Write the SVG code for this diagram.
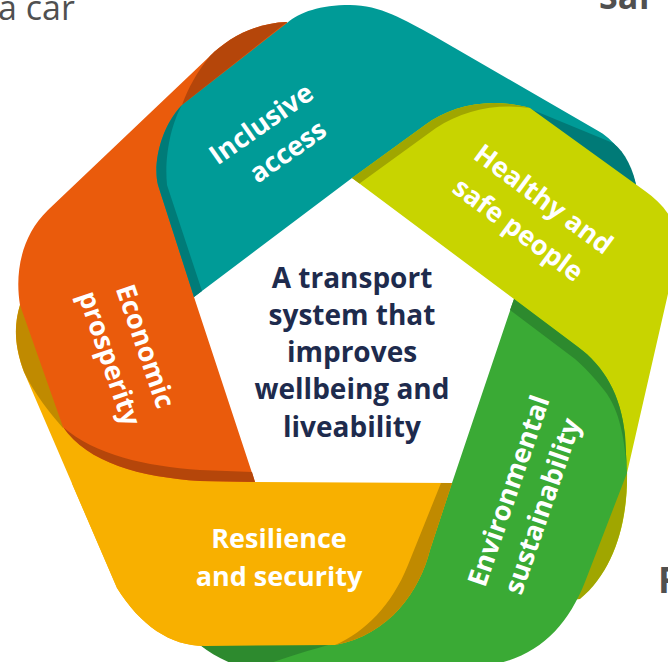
<svg xmlns="http://www.w3.org/2000/svg" width="668" height="662" viewBox="0 0 668 662">
<style>
.lbl{font-family:"Open Sans","Noto Sans","Liberation Sans",sans-serif;font-weight:700;font-size:27px;fill:#ffffff;text-anchor:middle}
.ctr{font-family:"Open Sans","Noto Sans","Liberation Sans",sans-serif;font-weight:700;font-size:28px;fill:#1e2b4d;text-anchor:middle}
.bgt{font-family:"Open Sans","Liberation Sans",sans-serif;fill:#505050}
</style>
<defs>
<path id="yShape" d="M452,483 L430,550 C420,590 390,635 335,645 L205,646 C170,646 140,625 117,588 L24,372 C14,345 14,325 20,305 L40,290 L100,300 L255,482 Z"/>
<clipPath id="clipLow"><rect x="0" y="483" width="668" height="200"/></clipPath>
</defs>
<rect width="668" height="662" fill="#ffffff"/>
<g id="background-text">
<text class="bgt" x="-2" y="20" font-size="34">a car</text>
<text class="bgt" x="599" y="8.5" font-size="34" font-weight="700">Saf</text>
<text class="bgt" x="658" y="593" font-size="36" font-weight="700">F</text>
</g>
<g id="node-resilience-fold">
<use href="#yShape" fill="#f8b000"/>
<path d="M20,305 C14,325 14,345 24,372 C35,395 50,413 63,428 L80,300 Z" fill="#c08a00"/>
</g>
<g id="node-economic">
<path d="M255,482 L200,481 C140,477 88,463 63,427 L20,305 C15,275 20,237 48,210 L210,56 C228,38 255,23 287,22 L300,60 L250,160 L194,297 Z" fill="#ea5b0c"/>
<path d="M210,56 C228,38 255,23 287,22 L182,105 C188,88 197,72 210,56 Z" fill="#b5460a"/>
<path d="M63,427 C88,463 140,477 200,481 L255,482 L252,472 L200,470 C145,466 95,455 63,427 Z" fill="#b5460a"/>
<text class="lbl" transform="translate(136.5,349.3) rotate(71)">Economic</text>
<text class="lbl" transform="translate(100.7,361.3) rotate(71)">prosperity</text>
</g>
<g id="node-inclusive">
<path d="M194,297 L158,185 C153,165 160,128 182,105 L287,23 C300,12 320,5 350,5 C380,5 405,20 434,36 L600,132 C615,141 632,162 637,190 L600,240 L352,178 Z" fill="#009b97"/>
<path d="M194,297 L158,185 C153,165 160,128 182,105 C172,122 164,155 167,185 L202,291 Z" fill="#007b78"/>
<path d="M528,108 L613,143 C625,152 634,170 637,190 L640,215 L560,150 Z" fill="#007a77"/>
<text class="lbl" transform="translate(266.5,131.5) rotate(-35)">Inclusive</text>
<text class="lbl" transform="translate(293,159) rotate(-35)">access</text>
</g>
<g id="node-healthy">
<path d="M352,178 L425,125 C452,105 490,97 530,108 L645,191 C665,205 680,225 678,250 L627,473 C628,520 615,570 580,598 L545,565 L514,299 Z" fill="#c8d400"/>
<path d="M352,178 L425,125 C452,105 490,97 530,108 C497,103 463,110 436,128 L359.5,183.6 Z" fill="#a0a600"/>
<path d="M627,470 C628,520 615,570 580,599 L572,600 L600,470 Z" fill="#a0a600"/>
<text class="lbl" transform="translate(538,206.6) rotate(36.5)">Healthy and</text>
<text class="lbl" transform="translate(512.6,237) rotate(36.5)">safe people</text>
</g>
<g id="node-environmental">
<path d="M514,299 L578,347 C604,366 621,395 625,435 L627,473 L585,582 C568,625 540,655 495,664 L260,668 C235,662 215,655 200,645 L300,560 L452,483 Z" fill="#3aaa35"/>
<path d="M514,299 L578,347 C604,366 621,395 625,435 L627,473 C625,440 620,410 604,390 C592,375 585,368 575,359 L510,310 Z" fill="#2d8a2e"/>
<path d="M200,645 L300,600 L345,640 C312,650 284,657 258,668 L245,668 C228,663 212,655 200,645 Z" fill="#2d8a2e"/>
<text class="lbl" transform="translate(517.5,493.8) rotate(-71)">Environmental</text>
<text class="lbl" transform="translate(551.2,509) rotate(-71)">sustainability</text>
</g>
<g id="node-resilience">
<use href="#yShape" fill="#f8b000" clip-path="url(#clipLow)"/>
<path d="M452,483 L430,550 C420,590 390,635 335,645 C365,632 392,605 408,565 L441,483 Z" fill="#c08a00"/>
<text class="lbl" x="279" y="548">Resilience</text>
<text class="lbl" x="279" y="586">and security</text>
</g>
<g id="node-center">
<text class="ctr" x="352" y="288">A transport</text>
<text class="ctr" x="352" y="325">system that</text>
<text class="ctr" x="352" y="362">improves</text>
<text class="ctr" x="352" y="399">wellbeing and</text>
<text class="ctr" x="352" y="437">liveability</text>
</g>
<g id="connectors"></g>
</svg>
